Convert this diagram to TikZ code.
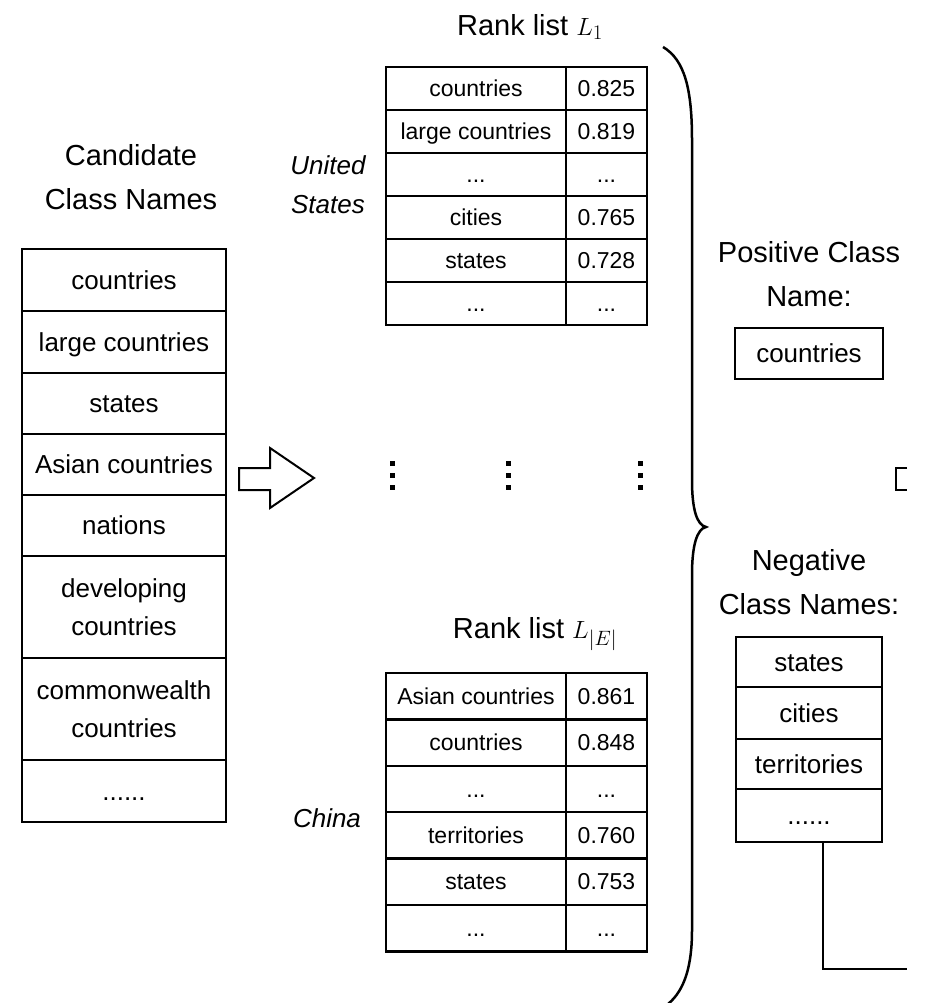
\documentclass[tikz,border=0pt]{standalone}
\usepackage[no-math]{fontspec}
\setmainfont{Liberation Sans}
\newcommand{\etcdots}{...}
\newcommand{\moredots}{......}
\tikzset{
  cell/.style={draw, line width=2.5pt, inner sep=0pt},
  oneline/.style={text height=22pt, text depth=3.5pt},
  twoline/.style={align=center},
  cand/.style={cell, minimum width=204pt, font=\fontsize{26}{38}\selectfont},
  rkname/.style={cell, minimum width=180pt, text height=19.5pt, text depth=3.5pt, font=\fontsize{23}{28}\selectfont},
  rkval/.style={cell, minimum width=81pt, text height=19.5pt, text depth=3.5pt, font=\fontsize{23}{28}\selectfont},
  picked/.style={cell, oneline, minimum width=146pt, font=\fontsize{26}{30}\selectfont},
  heading/.style={align=center, font=\fontsize{29}{44}\selectfont},
  entity/.style={align=center, font=\fontsize{26}{39}\selectfont\itshape},
}
\begin{document}
\begin{tikzpicture}[x=1pt,y=-1pt]
 \useasboundingbox (0,0) rectangle (929,1003);
 % candidate class names
 \node[heading] (candhead) at (131,177) {Candidate\\Class Names};
 \foreach \t/\y/\h/\s [count=\i] in {countries/280/62/oneline, large countries/342/62/oneline, states/403.5/61/oneline, Asian countries/464.5/61/oneline, nations/525.5/61/oneline, {developing\\countries}/607/102/twoline, {commonwealth\\countries}/709/102/twoline, \moredots/791/62/oneline}
   \node[cand, \s, minimum height=\h pt] (cand\i) at (124,\y) {\t};
 % arrow
 \draw[line width=2pt, line join=miter] (239,468)--(270,468)--(270,448)--(314,478)--(270,508)--(270,490)--(239,490)--cycle;
 % rank list L_1
 \node[heading] (rankA) at (530,27) {Rank list $L_1$};
 \foreach \t/\v [count=\i] in {countries/0.825, large countries/0.819, \etcdots/\etcdots, cities/0.765, states/0.728, \etcdots/\etcdots} {
   \node[rkname, minimum height=43pt] (na\i) at (476,{67+43*\i-21.5}) {\t};
   \node[rkval, minimum height=43pt] (va\i) at (606.5,{67+43*\i-21.5}) {\v};
 }
 \node[entity] (us) at (328,185) {United\\States};
 % vertical dots
 \foreach \x in {392,508,640} \foreach \y in {463,475,487} \fill (\x-2.5,\y-2.5) rectangle +(5,5);
 % rank list L_|E|
 \node[heading] (rankE) at (535,634) {Rank list $L_{|E|}$};
 \foreach \t/\v [count=\i] in {Asian countries/0.861, countries/0.848, \etcdots/\etcdots, territories/0.760, states/0.753, \etcdots/\etcdots} {
   \node[rkname, minimum height=46.4pt] (ne\i) at (476,{673+46.4*\i-23.2}) {\t};
   \node[rkval, minimum height=46.4pt] (ve\i) at (606.5,{673+46.4*\i-23.2}) {\v};
 }
 \node[entity] (china) at (327,818) {China};
 % brace
 \draw[line width=2.5pt] (663,47) .. controls (685,60) and (692,90) .. (692,140) -- (692,480)
   .. controls (692,510) and (697,525) .. (706,527) .. controls (697,529) and (692,545) .. (692,575)
   -- (692,930) .. controls (692,965) and (685,990) .. (668,1004);
 % positive / negative names
 \node[heading] (poshead) at (809,274) {Positive Class\\Name:};
 \node[picked, minimum width=148pt, minimum height=51pt] (pos) at (809,353.5) {countries};
 \node[heading] (neghead) at (809,582) {Negative\\Class Names:};
 \foreach \t/\y/\h [count=\i] in {states/662/50, cities/713/52, territories/764/50, \moredots/815.5/53}
   \node[picked, minimum height=\h pt] (neg\i) at (809,\y) {\t};
 \draw[line width=2pt] (907,468) -- (896,468) -- (896,490) -- (907,490);
 \coordinate (bend) at (823,969);
 \coordinate (exit) at (907,969);
 \draw[line width=2pt] (neg4.south -| bend) -- (bend) -- (exit);
\end{tikzpicture}
\end{document}
